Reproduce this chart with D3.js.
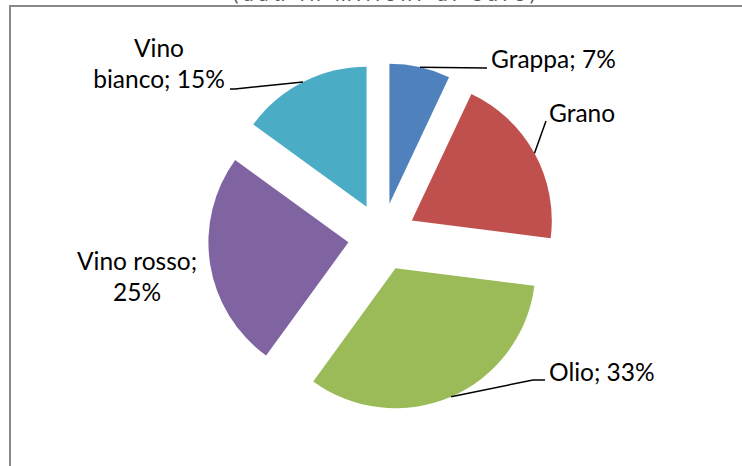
<!DOCTYPE html>
<html>
<head>
<meta charset="utf-8">
<script src="https://d3js.org/d3.v7.min.js"></script>
<style>
  body { margin: 0; background: #fff; }
  text { font-family: Lato, "Liberation Sans", sans-serif; }
</style>
</head>
<body>
<script>
// data
let categories = ["Grappa", "Grano", "Olio", "Vino rosso", "Vino bianco"];
let values = [7, 20, 33, 25, 15];
let labelLines = [["Grappa; 7%"], ["Grano"], ["Olio; 33%"], ["Vino rosso;", "25%"], ["Vino", "bianco; 15%"]];
let colors = ["#4F81BD", "#C0504D", "#9BBB59", "#8064A2", "#4BACC6"];
let title = "(dati in milioni di euro)";

// label layout (positions of the text and leader elbows)
let labelLayout = [
  {x: 491, y: 68, anchor: "start", leader: [[487, 68]]},
  {x: 549, y: 122, anchor: "start", leader: [[546, 121]]},
  {x: 549, y: 381, anchor: "start", leader: [[533, 380], [545, 380]]},
  {x: 137, y: 270, anchor: "middle", leader: []},
  {x: 159, y: 57, anchor: "middle", leader: [[235, 89], [230, 89]]}
];

let width = 742, height = 466;
let cx = 382, cy = 237, r = 140, explode = 34;

let svg = d3.select("body").append("svg")
  .attr("width", width)
  .attr("height", height);

// title, cut by the top of the picture as in the original
svg.append("text")
  .attr("x", 233).attr("y", 1)
  .attr("textLength", 302)
  .attr("lengthAdjust", "spacing")
  .attr("font-size", "20px")
  .attr("fill", "#595959")
  .text(title);

// frame
svg.append("path")
  .attr("d", "M10," + (height + 2) + "V6H" + (width + 2))
  .attr("fill", "none")
  .attr("stroke", "#898989")
  .attr("stroke-width", 2);

let pie = d3.pie().value(d => d).sort(null);
let arcs = pie(values);
let arc = d3.arc().innerRadius(0).outerRadius(r);

function offset(d, k) {
  let mid = (d.startAngle + d.endAngle) / 2;
  return [Math.sin(mid) * k, -Math.cos(mid) * k];
}

let g = svg.append("g").attr("transform", "translate(" + cx + "," + cy + ")");

g.selectAll("path.slice")
  .data(arcs)
  .enter()
  .append("path")
    .attr("class", "slice")
    .attr("d", arc)
    .attr("transform", d => {
      let o = offset(d, explode);
      return "translate(" + o[0] + "," + o[1] + ")";
    })
    .attr("fill", (d, i) => colors[i]);

// leader lines
arcs.forEach((d, i) => {
  let lay = labelLayout[i];
  if (!lay.leader.length) return;
  let o = offset(d, explode), p = offset(d, r);
  let pts = [[cx + o[0] + p[0], cy + o[1] + p[1]]].concat(lay.leader);
  svg.append("path")
    .attr("d", d3.line()(pts))
    .attr("fill", "none")
    .attr("stroke", "#000")
    .attr("stroke-width", 1.5);
});

// labels
let labels = svg.selectAll("text.lbl")
  .data(categories)
  .enter()
  .append("text")
    .attr("class", "lbl")
    .attr("x", (d, i) => labelLayout[i].x)
    .attr("y", (d, i) => labelLayout[i].y)
    .attr("text-anchor", (d, i) => labelLayout[i].anchor)
    .attr("font-size", "24.5px")
    .attr("fill", "#000");

labels.each(function (d, i) {
  let t = d3.select(this);
  labelLines[i].forEach((line, j) => {
    t.append("tspan")
      .attr("x", labelLayout[i].x)
      .attr("dy", j === 0 ? 0 : 31)
      .text(line);
  });
});
</script>
</body>
</html>
